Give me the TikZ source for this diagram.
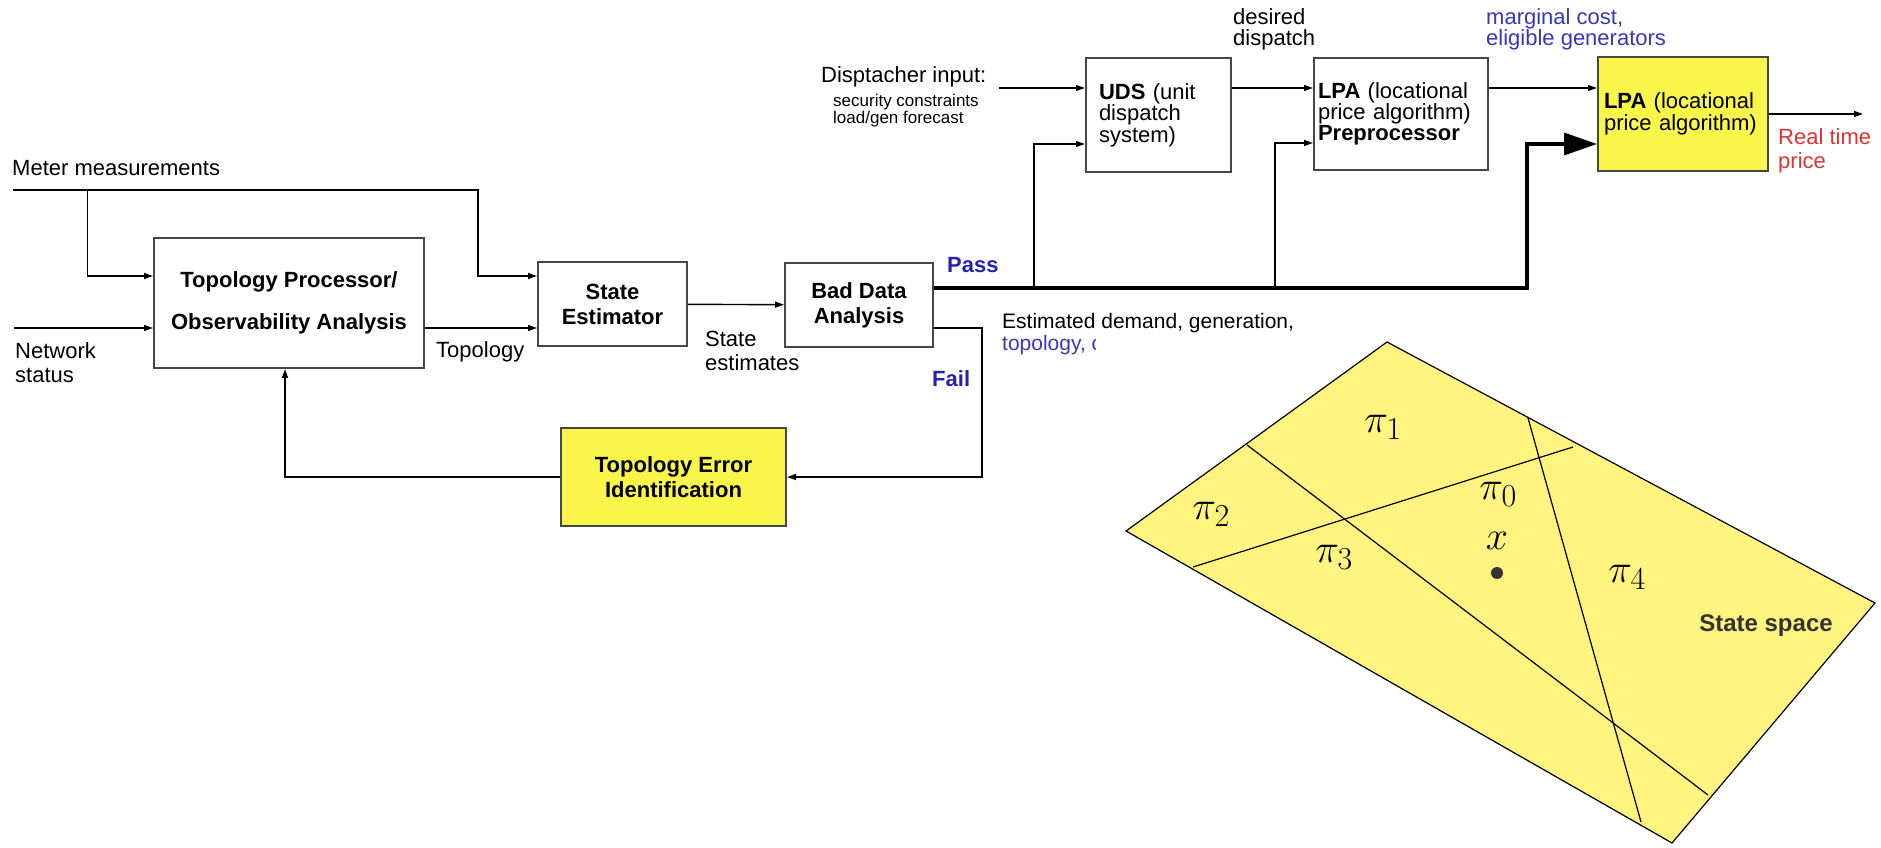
\RequirePackage{fix-cm}
\documentclass[tikz,border=0pt]{standalone}
\usepackage[no-math]{fontspec}
\setmainfont{Liberation Sans}
\usetikzlibrary{arrows.meta}
\DeclareMathSizes{40}{40}{32}{24}

\definecolor{boxyellow}{RGB}{250,245,75}
\definecolor{spaceyellow}{RGB}{255,244,128}
\definecolor{passblue}{RGB}{35,35,175}
\definecolor{costblue}{RGB}{55,55,190}
\definecolor{pricered}{RGB}{225,50,50}
\definecolor{boxgray}{RGB}{70,70,70}

\tikzset{
  block/.style={draw=boxgray, line width=2pt, inner sep=0pt, align=center,
    font=\fontsize{22}{25}\selectfont},
  yblock/.style={block, fill=boxyellow},
  boldtext/.style={font=\fontsize{22}{25}\selectfont\bfseries},
  arr/.style={line width=1.4pt, -{Triangle[length=9pt,width=6pt]}},
  passline/.style={line width=3.5pt, -{Triangle[length=33pt,width=22pt]}},
  lbl/.style={inner sep=0pt, anchor=west, align=left, font=\fontsize{22}{24}\selectfont},
  pilbl/.style={inner sep=0pt, font=\fontsize{40}{48}\selectfont},
}

\begin{document}
\begin{tikzpicture}[x=1pt,y=-1pt]
    \useasboundingbox (0,0) rectangle (1881,848);

    % Estimation chain
    \node[block, boldtext, minimum width=270pt, minimum height=130pt] (tp) at (289,303)
        {Topology Processor/\\[17pt]Observability Analysis};
    \node[block, boldtext, minimum width=149pt, minimum height=84pt] (se) at (612.5,304) {State\\Estimator};
    \node[block, boldtext, minimum width=148pt, minimum height=84pt] (bda) at (859,305) {Bad Data\\Analysis};
    \node[yblock, boldtext, minimum width=225pt, minimum height=98pt] (tei) at (673.5,477) {Topology Error\\Identification};

    % Dispatch and pricing
    \node[block, font=\fontsize{22}{21.5}\selectfont, minimum width=145pt, minimum height=114pt,
        text width=119pt, align=left] (uds) at (1158.5,115) {\textbf{UDS} (unit\\dispatch\\system)};
    \node[block, font=\fontsize{22}{21}\selectfont, minimum width=174pt, minimum height=112pt,
        text width=166pt, align=left] (lpap) at (1401,114)
        {\textbf{LPA} (locational\\price algorithm)\\\textbf{Preprocessor}};
    \node[yblock, font=\fontsize{22}{22}\selectfont, minimum width=170pt, minimum height=114pt,
        text width=158pt, align=left] (lpa) at (1683,114) {\textbf{LPA} (locational\\price algorithm)};

    % Free ends
    \coordinate (meter) at (13,190);
    \coordinate (tap) at (87.5,190);
    \coordinate (net) at (14,328);
    \coordinate (dispin) at (999,88);
    \coordinate (rtp) at (1863,114);

    % Connectors
    \draw[arr] (meter) -- ++(465,0) |- ([yshift=-15pt]se.north west);
    \draw[arr] (tap) |- ([yshift=-39pt]tp.north west);
    \draw[arr] (net) -- (net -| tp.west);
    \draw[arr] (tp.east |- net) -- (se.west |- net);
    \draw[arr] (se) -- (bda);
    \draw[passline] ([yshift=17pt]bda.east) -- ++(593,0) |- ([yshift=-30pt]lpa.west);
    \draw[arr] (1034,288) |- ([yshift=-29pt]uds.west);
    \draw[arr] (1275,288) |- ([yshift=-29pt]lpap.west);
    \draw[arr] (dispin) -- (dispin -| uds.west);
    \draw[arr] (uds.east |- dispin) -- (lpap.west |- dispin);
    \draw[arr] (lpap.east |- dispin) -- (lpa.west |- dispin);
    \draw[arr] (lpa.east) -- (rtp);
    \draw[arr] ([yshift=-23pt]bda.east) -- ++(48,0) |- (tei.east);
    \draw[arr] (tei.west) -| ([xshift=-4pt]tp.south);

    % Labels
    \node[lbl] (meterlbl) at (12,168) {Meter measurements};
    \node[lbl, font=\fontsize{22}{24}\selectfont] (netlbl) at (15,363) {Network\\status};
    \node[lbl] (topolbl) at (436,352) {Topology};
    \node[lbl] (selbl) at (705,351) {State\\estimates};
    \node[lbl, boldtext, text=passblue] (passlbl) at (947,265) {Pass};
    \node[lbl, boldtext, text=passblue] (faillbl) at (932,379) {Fail};
    \node[lbl] (displbl) at (821,77) {Disptacher input:};
    \node[lbl, font=\fontsize{17}{17}\selectfont] (constrlbl) at (833,111) {security constraints\\load/gen forecast};
    \node[lbl, font=\fontsize{22}{21}\selectfont] (desiredlbl) at (1233,29) {desired\\dispatch};
    \node[lbl, font=\fontsize{22}{21}\selectfont, text=costblue] (costlbl) at (1486,29) {marginal cost,\\eligible generators};
    \node[lbl, text=pricered] (pricelbl) at (1778,151) {Real time\\price};
    \node[lbl, font=\fontsize{21}{22}\selectfont] (estlbl) at (1002,334)
        {Estimated demand, generation,\\\textcolor{costblue}{topology, c}};

    % State space
    \fill[white] (1096,333) rectangle (1881,848);
    \coordinate (sstop) at (1387,342);
    \coordinate (ssright) at (1875,603);
    \coordinate (ssbottom) at (1672,843);
    \coordinate (ssleft) at (1126,531);
    \draw[fill=spaceyellow, line width=1.2pt] (sstop) -- (ssright) -- (ssbottom) -- (ssleft) -- cycle;
    \draw[line width=1.2pt] (1247,445) -- (1708,795);
    \draw[line width=1.2pt] (1193,567) -- (1573,447);
    \draw[line width=1.2pt] (1528,418) -- (1641,822);
    \fill[black!80] (1497,573) circle (6pt);

    \node[pilbl] (pione) at (1383,427) {$\pi_1$};
    \node[pilbl] (pitwo) at (1211,514) {$\pi_2$};
    \node[pilbl] (pizero) at (1498,494) {$\pi_0$};
    \node[pilbl] (xlbl) at (1497,541) {$x$};
    \node[pilbl] (pithree) at (1334,557) {$\pi_3$};
    \node[pilbl] (pifour) at (1627,577) {$\pi_4$};
    \node[inner sep=0pt, font=\fontsize{24}{26}\selectfont\bfseries, text=black!80] (sslbl) at (1766,626) {State space};
\end{tikzpicture}
\end{document}
